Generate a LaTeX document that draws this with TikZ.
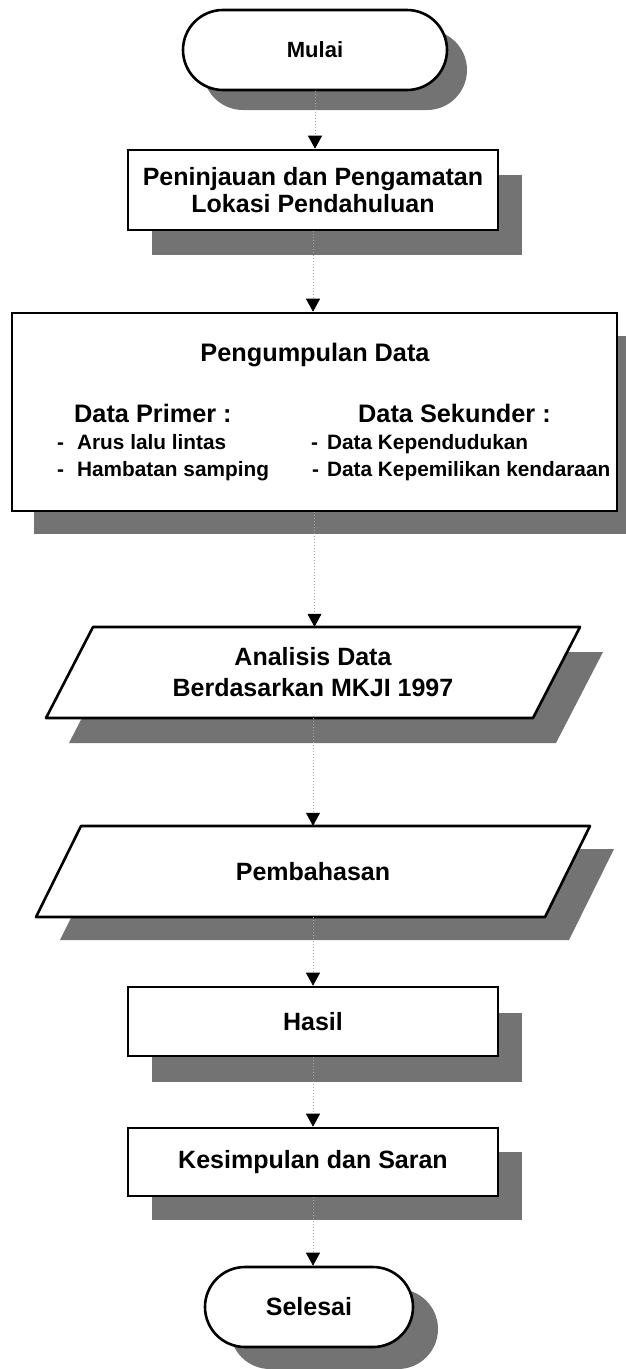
\documentclass[tikz,border=0pt]{standalone}
\usepackage{fontspec}
\setmainfont{Liberation Sans}
\usetikzlibrary{shapes.misc,shadows,arrows.meta}

\tikzset{
  frame/.style={draw=black, line width=2.6pt, fill=white, inner sep=0pt,
    align=center, font=\bfseries\fontsize{25}{27}\selectfont},
  procbox/.style={frame, rectangle, minimum width=370pt},
  termbox/.style={frame, rounded rectangle, minimum height=80pt},
  boxshadow/.style 2 args={drop shadow={shadow xshift=#1pt, shadow yshift=-#2pt,
    opacity=1, fill=black!55}},
  shadowfill/.style={fill=black!55},
  ioframe/.style={draw=black, line width=2.6pt, fill=white, line join=round},
  iotext/.style={inner sep=0pt, minimum height=91pt, minimum width=440pt,
    align=center, font=\bfseries\fontsize{25}{31}\selectfont},
  head/.style={inner sep=0pt, font=\bfseries\fontsize{25.3}{30}\selectfont},
  item/.style={inner sep=0pt, anchor=base west, font=\bfseries\fontsize{20.8}{24}\selectfont},
  link/.style={draw=black!35, line width=0.8pt, dash pattern=on 1pt off 2pt,
    -{Triangle[width=14pt,length=13pt,color=black]}}
}

\begin{document}
\begin{tikzpicture}[x=1pt,y=-1pt]
\useasboundingbox (0,0) rectangle (626,1369);

% start
\node[termbox, minimum width=264pt, boxshadow={20}{20},
      font=\bfseries\fontsize{22}{26}\selectfont] (start) at (315,50) {Mulai};

% preliminary survey
\node[procbox, minimum height=80pt, boxshadow={24}{25}] (survey) at (313,190)
  {Peninjauan dan Pengamatan\\Lokasi Pendahuluan};

% data collection
\node[procbox, minimum width=605pt, minimum height=198pt, boxshadow={22}{23}]
  (collect) at (314.5,412) {};
\node[head, anchor=base] (ctitle) at (315,361) {Pengumpulan Data};
\node[head, anchor=base west] (prim) at (74,422) {Data Primer :};
\node[head, anchor=base west] (sek) at (358,422) {Data Sekunder :};
\node[item] (p1) at (57,449) {-\hspace{13pt}Arus lalu lintas};
\node[item] (p2) at (57,476) {-\hspace{13pt}Hambatan samping};
\node[item] (s1) at (311,449) {-\hspace{9pt}Data Kependudukan};
\node[item] (s2) at (312,476) {-\hspace{8pt}Data Kepemilikan kendaraan};

% analysis (parallelogram)
\fill[shadowfill] (116,652) -- (603,652) -- (556,743) -- (69,743) -- cycle;
\draw[ioframe] (93,627) -- (580,627) -- (533,718) -- (46,718) -- cycle;
\node[iotext] (analysis) at (313,672.5) {Analisis Data\\Berdasarkan MKJI 1997};

% discussion (parallelogram)
\fill[shadowfill] (105,849) -- (614,849) -- (569,940) -- (60,940) -- cycle;
\draw[ioframe] (81,826) -- (590,826) -- (545,917) -- (36,917) -- cycle;
\node[iotext] (discuss) at (313,871.5) {Pembahasan};

% result
\node[procbox, minimum height=69pt, boxshadow={24}{26}] (result) at (313,1021.5) {Hasil};

% conclusion
\node[procbox, minimum height=68pt, boxshadow={24}{24}] (concl) at (313,1162) {Kesimpulan dan Saran};

% end
\node[termbox, minimum width=208pt, boxshadow={25}{22}] (stop) at (309,1307) {Selesai};

% connectors
\draw[link] (start.south) -- (start.south |- survey.north);
\draw[link] (survey.south) -- (survey.south |- collect.north);
\draw[link] (collect.south) -- (collect.south |- analysis.north);
\draw[link] (analysis.south) -- (analysis.south |- discuss.north);
\draw[link] (discuss.south) -- (discuss.south |- result.north);
\draw[link] (result.south) -- (result.south |- concl.north);
\draw[link] (concl.south) -- (concl.south |- stop.north);
\end{tikzpicture}
\end{document}
